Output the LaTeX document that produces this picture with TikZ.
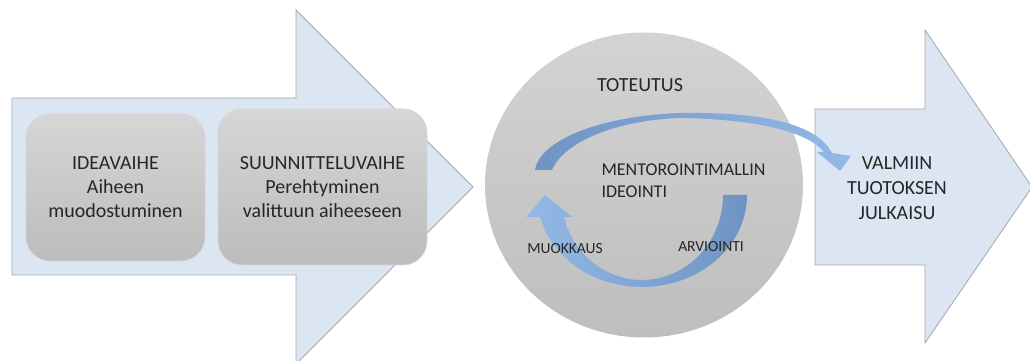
\documentclass[tikz,border=0pt]{standalone}
\usepackage{fontspec}
\setmainfont{Carlito}
\usetikzlibrary{shapes.geometric}
\definecolor{arrowfill}{HTML}{DCE6F2}
\definecolor{arrowline}{HTML}{A6A6A6}
\definecolor{boxtop}{HTML}{D6D6D6}
\definecolor{boxbot}{HTML}{BCBCBC}
\definecolor{circtop}{HTML}{D3D3D3}
\definecolor{circbot}{HTML}{BEBEBE}
\definecolor{loopdark}{HTML}{6F93C2}
\definecolor{looplight}{HTML}{93B9E8}
\definecolor{txt}{HTML}{262626}
\begin{document}
\begin{tikzpicture}[x=1pt,y=1pt,
  bigarrow/.style={fill=arrowfill,draw=arrowline,line width=0.8pt,line join=miter},
  phase/.style={rectangle,rounded corners=24pt,top color=boxtop,bottom color=boxbot,
    draw=boxtop,line width=0.8pt,inner sep=0pt,text=txt,align=center,
    font=\fontsize{20}{24}\selectfont},
  phasetext/.style={text=txt,align=center,font=\fontsize{20}{25}\selectfont},
  looptext/.style={text=txt,font=\fontsize{15.5}{18}\selectfont}
  ]
  \useasboundingbox (0,0) rectangle (1030,361);
  % first arrow with the two phases
  \draw[bigarrow] (12,263) -- (296,263) -- (296,351) -- (473,174) -- (296,-3)
    -- (296,86) -- (12,86) -- cycle;
  \node[phase,minimum width=179pt,minimum height=147pt] (idea) at (115.5,173.5)
    {IDEAVAIHE\\Aiheen\\muodostuminen};
  \node[phase,minimum width=209pt,minimum height=156pt] (plan) at (322.5,174)
    {SUUNNITTELUVAIHE\\Perehtyminen\\valittuun aiheeseen};
  % last arrow
  \draw[bigarrow] (815,252) -- (925,252) -- (925,331) -- (1032,174) -- (925,18)
    -- (925,96) -- (815,96) -- cycle;
  \node[phasetext] (publish) at (897,173) {VALMIIN\\TUOTOKSEN\\JULKAISU};
  % the circle
  \node[ellipse,minimum width=318pt,minimum height=305pt,inner sep=0pt,
    top color=circtop,bottom color=circbot] (impl) at (644,176) {};
  % loop: lower arrow
  \path[left color=looplight,right color=loopdark]
    (747,166) arc[start angle=0,end angle=-166.2,x radius=105,y radius=92]
    -- (526,144) -- (545,166) -- (572,144) -- (563.8,144)
    arc[start angle=-165,end angle=0,x radius=81,y radius=85] -- cycle;
  % loop: upper arrow, out to the last arrow
  \path[left color=loopdark,right color=looplight]
    (535,191) .. controls (540,221) and (600,245) .. (680,248)
    .. controls (750,249) and (815,241) .. (832,208)
    -- (851,205) -- (840,190) -- (817,209) -- (824,209)
    .. controls (806,231) and (750,242) .. (680,243)
    .. controls (620,241) and (565,221) .. (552,191) -- cycle;
  \node[phasetext] (title) at (640,276) {TOTEUTUS};
  \node[phasetext,font=\fontsize{18}{22}\selectfont,align=left,anchor=west]
    (mentor) at (598,180) {MENTOROINTIMALLIN\\IDEOINTI};
  \node[looptext] (edit) at (565,112) {MUOKKAUS};
  \node[looptext] (review) at (711,114) {ARVIOINTI};
\end{tikzpicture}
\end{document}
